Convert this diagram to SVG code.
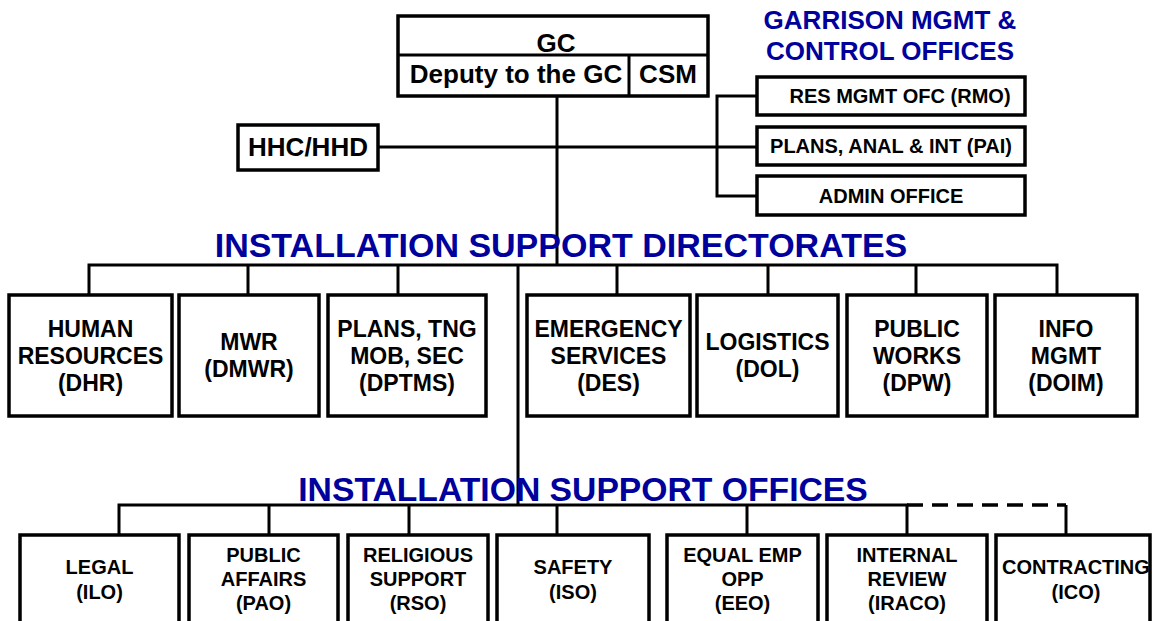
<svg xmlns="http://www.w3.org/2000/svg" width="1154" height="621" viewBox="0 0 1154 621">
<style>
.box{fill:#fff;stroke:#000;stroke-width:3.5}
.ln{fill:none;stroke:#000;stroke-width:3}
.dash{fill:none;stroke:#000;stroke-width:3.5;stroke-dasharray:16 9}
text{font-family:"Liberation Sans",Arial,sans-serif;font-weight:bold;text-anchor:middle;fill:#000}
.gc{font-size:26px}
.d{font-size:23px}
.o{font-size:20px}
.g{font-size:20px}
.t{fill:#00009C;font-size:34px}
.t2{fill:#00009C;font-size:33.7px}
.tg{fill:#00009C;font-size:26px}
</style>
<rect width="1154" height="621" fill="#fff"/>
<g id="connectors">
<path class="ln" d="M557 96V265M378 147H757M757 96H717V196H757"/>
<path class="ln" d="M89 295V265H1057V295M248 265V295M398 265V295M617 265V295M768 265V295M916 265V295"/>
<path class="ln" d="M518 265V505"/>
<path class="ln" d="M119 535V505H907V535M269 505V535M409 505V535M557 505V535M747 505V535"/>
<path class="dash" d="M907 505H1066"/>
<path class="ln" d="M1066 505V535"/>
</g>
<g id="titles">
<text class="tg" x="890" y="29">GARRISON MGMT &amp;</text>
<text class="tg" x="890" y="60">CONTROL OFFICES</text>
<text class="t" x="561" y="257">INSTALLATION SUPPORT DIRECTORATES</text>
<text class="t2" x="583" y="501">INSTALLATION SUPPORT OFFICES</text>
</g>
<g id="gc">
<rect class="box" x="398" y="16" width="310" height="80"/>
<path class="ln" d="M398 55H708M629 55V96"/>
<text class="gc" x="556" y="52">GC</text>
<text class="gc" x="516" y="83">Deputy to the GC</text>
<text class="gc" x="668" y="83">CSM</text>
</g>
<g id="hhc">
<rect class="box" x="238" y="125" width="140" height="45"/>
<text class="gc" x="308" y="156">HHC/HHD</text>
</g>
<g id="rmo">
<rect class="box" x="757" y="77" width="268" height="38"/>
<text class="g" x="900" y="103">RES MGMT OFC (RMO)</text>
</g>
<g id="pai">
<rect class="box" x="757" y="127" width="268" height="38"/>
<text class="g" x="891" y="153">PLANS, ANAL &amp; INT (PAI)</text>
</g>
<g id="admin">
<rect class="box" x="757" y="176" width="268" height="39"/>
<text class="g" x="891" y="203">ADMIN OFFICE</text>
</g>
<g id="dhr">
<rect class="box" x="9" y="295" width="163" height="121"/>
<text class="d" x="90.5" y="337">HUMAN</text>
<text class="d" x="90.5" y="364">RESOURCES</text>
<text class="d" x="90.5" y="391">(DHR)</text>
</g>
<g id="dmwr">
<rect class="box" x="179" y="295" width="140" height="121"/>
<text class="d" x="249" y="350">MWR</text>
<text class="d" x="249" y="377">(DMWR)</text>
</g>
<g id="dptms">
<rect class="box" x="328" y="295" width="158" height="121"/>
<text class="d" x="407" y="337">PLANS, TNG</text>
<text class="d" x="407" y="364">MOB, SEC</text>
<text class="d" x="407" y="391">(DPTMS)</text>
</g>
<g id="des">
<rect class="box" x="527" y="295" width="163" height="121"/>
<text class="d" x="608.5" y="337">EMERGENCY</text>
<text class="d" x="608.5" y="364">SERVICES</text>
<text class="d" x="608.5" y="391">(DES)</text>
</g>
<g id="dol">
<rect class="box" x="697" y="295" width="141" height="121"/>
<text class="d" x="767.5" y="350">LOGISTICS</text>
<text class="d" x="767.5" y="377">(DOL)</text>
</g>
<g id="dpw">
<rect class="box" x="847" y="295" width="140" height="121"/>
<text class="d" x="917" y="337">PUBLIC</text>
<text class="d" x="917" y="364">WORKS</text>
<text class="d" x="917" y="391">(DPW)</text>
</g>
<g id="doim">
<rect class="box" x="995" y="295" width="142" height="121"/>
<text class="d" x="1066" y="337">INFO</text>
<text class="d" x="1066" y="364">MGMT</text>
<text class="d" x="1066" y="391">(DOIM)</text>
</g>
<g id="ilo">
<rect class="box" x="20" y="535" width="159" height="110"/>
<text class="o" x="99.5" y="574">LEGAL</text>
<text class="o" x="99.5" y="599">(ILO)</text>
</g>
<g id="pao">
<rect class="box" x="189" y="535" width="149" height="110"/>
<text class="o" x="263.5" y="562">PUBLIC</text>
<text class="o" x="263.5" y="586">AFFAIRS</text>
<text class="o" x="263.5" y="610">(PAO)</text>
</g>
<g id="rso">
<rect class="box" x="348" y="535" width="140" height="110"/>
<text class="o" x="418" y="562">RELIGIOUS</text>
<text class="o" x="418" y="586">SUPPORT</text>
<text class="o" x="418" y="610">(RSO)</text>
</g>
<g id="iso">
<rect class="box" x="497" y="535" width="152" height="110"/>
<text class="o" x="573" y="574">SAFETY</text>
<text class="o" x="573" y="599">(ISO)</text>
</g>
<g id="eeo">
<rect class="box" x="667" y="535" width="151" height="110"/>
<text class="o" x="742.5" y="562">EQUAL EMP</text>
<text class="o" x="742.5" y="586">OPP</text>
<text class="o" x="742.5" y="610">(EEO)</text>
</g>
<g id="iraco">
<rect class="box" x="827" y="535" width="160" height="110"/>
<text class="o" x="907" y="562">INTERNAL</text>
<text class="o" x="907" y="586">REVIEW</text>
<text class="o" x="907" y="610">(IRACO)</text>
</g>
<g id="ico">
<rect class="box" x="996" y="535" width="154" height="110"/>
<text class="o" x="1076" y="574">CONTRACTING</text>
<text class="o" x="1076" y="599">(ICO)</text>
</g>
</svg>
